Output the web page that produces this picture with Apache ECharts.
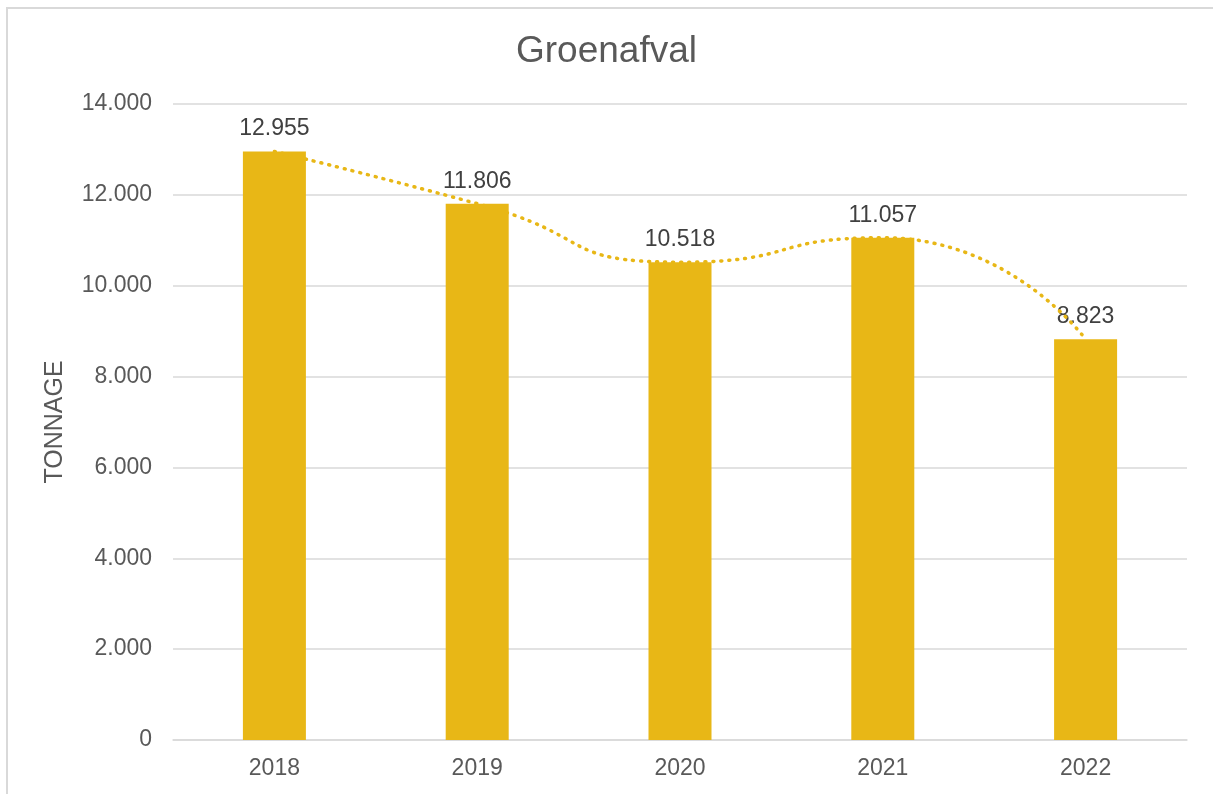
<!DOCTYPE html>
<html>
<head>
<meta charset="utf-8">
<script src="https://cdn.jsdelivr.net/npm/echarts@6/dist/echarts.min.js"></script>
<style>
  html, body { margin: 0; padding: 0; background: #fff; }
  #chart { width: 1213px; height: 794px; }
</style>
</head>
<body>
<div id="chart"></div>
<script>
  // data
  const years = ['2018', '2019', '2020', '2021', '2022']
  const tonnage = [12955, 11806, 10518, 11057, 8823]

  const font = '"Liberation Sans", Arial, sans-serif'
  const barColor = '#E8B716'

  // dutch thousands separator
  function fmt(v) {
    return String(v).replace(/\B(?=(\d{3})+(?!\d))/g, '.')
  }

  const chart = echarts.init(document.getElementById('chart'))

  chart.setOption({
    animation: false,
    textStyle: { fontFamily: font },
    title: {
      text: 'Groenafval',
      left: 'center',
      top: 28,
      textStyle: { fontFamily: font, fontSize: 37, fontWeight: 'normal', color: '#595959' },
    },
    graphic: [
      {
        type: 'rect',
        shape: { x: 7, y: 8, width: 1230, height: 820 },
        style: { fill: null, stroke: '#D9D9D9', lineWidth: 2 },
        silent: true,
      },
    ],
    grid: {
      left: 173,
      right: 26,
      top: 104,
      bottom: 54,
    },
    xAxis: {
      type: 'category',
      data: years,
      axisLine: { lineStyle: { color: '#D9D9D9', width: 1.5 } },
      axisTick: { show: false },
      axisLabel: { color: '#595959', fontSize: 23, margin: 17 },
    },
    yAxis: {
      type: 'value',
      min: 0,
      max: 14000,
      interval: 2000,
      name: 'TONNAGE',
      nameLocation: 'middle',
      nameGap: 105,
      nameRotate: 90,
      nameTextStyle: { color: '#595959', fontSize: 25 },
      axisLine: { show: false },
      axisTick: { show: false },
      axisLabel: { color: '#595959', fontSize: 23, margin: 21, formatter: fmt },
      splitLine: { lineStyle: { color: '#D9D9D9', width: 1.5 } },
    },
    series: [
      {
        type: 'bar',
        data: tonnage,
        barWidth: 63,
        itemStyle: { color: barColor },
        label: {
          show: true,
          position: 'top',
          distance: 11,
          color: '#404040',
          fontSize: 23,
          formatter: (p) => fmt(p.value),
        },
      },
      {
        // trend line
        type: 'line',
        data: tonnage,
        smooth: 0.6,
        symbol: 'none',
        z: 5,
        lineStyle: { color: barColor, width: 3.5, type: [1, 7], cap: 'round' },
      },
    ],
  })
</script>
</body>
</html>
